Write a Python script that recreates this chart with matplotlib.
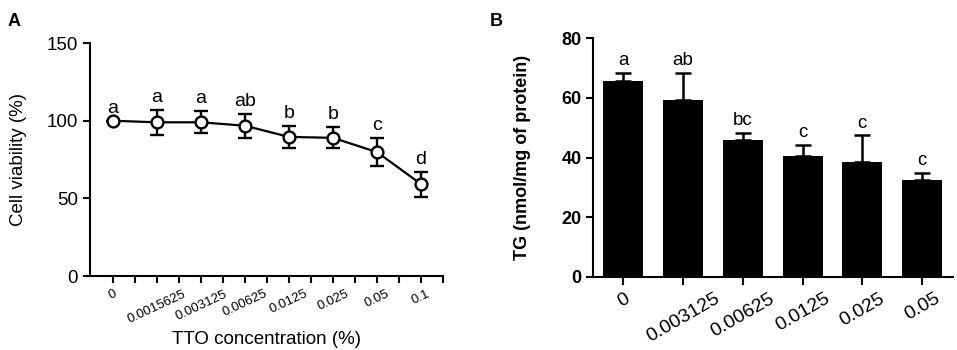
import numpy as np
import matplotlib
matplotlib.use("Agg")
import matplotlib.pyplot as plt

plt.rcParams['font.family'] = ['Liberation Sans', 'DejaVu Sans']

# Panel A: cell viability
conc_a = ['0', '0.0015625', '0.003125', '0.00625', '0.0125', '0.025', '0.05', '0.1']
viab = [100, 99, 99, 96.8, 89.6, 89, 79.8, 59.2]
viab_err = [0, 8.2, 7.2, 7.8, 7, 6.8, 9, 8]
viab_sig = ['a', 'a', 'a', 'ab', 'b', 'b', 'c', 'd']

# Panel B: TG content
conc_b = ['0', '0.003125', '0.00625', '0.0125', '0.025', '0.05']
tg = [65.6, 59.4, 45.8, 40.6, 38.5, 32.3]
tg_err = [2.8, 8.9, 2.5, 3.7, 8.9, 2.6]
tg_sig = ['a', 'ab', 'bc', 'c', 'c', 'c']

fig = plt.figure(figsize=(9.57, 3.5), dpi=100)

# ---- A ----
ax1 = fig.add_axes([0.094, 0.211, 0.369, 0.666])
xa = np.arange(len(conc_a))
ax1.errorbar(xa, viab, yerr=viab_err, color='black', lw=1.6, marker='o',
             markersize=8.5, markerfacecolor='white', markeredgewidth=1.7,
             capsize=5, capthick=1.7, elinewidth=1.7, zorder=3)
for xi, v, e, s in zip(xa, viab, viab_err, viab_sig):
    ax1.text(xi, v + e + 2.5, s, ha='center', va='bottom', fontsize=14)
ax1.set_xlim(-0.52, 7.5)
ax1.set_ylim(0, 150)
ax1.set_yticks([0, 50, 100, 150])
ax1.set_xticks(xa)
ax1.set_xticks(np.arange(0.5, 8, 1), minor=True)
ax1.set_xticklabels(conc_a, rotation=25, fontsize=9.5, ha='center')
ax1.set_ylabel('Cell viability (%)', fontsize=13.5, labelpad=14)
ax1.set_xlabel('TTO concentration (%)', fontsize=13.5, labelpad=4)
ax1.tick_params(axis='y', labelsize=13.5, width=1.5, length=5)
ax1.tick_params(axis='x', which='both', width=1.5, length=5)
for sp in ['top', 'right']:
    ax1.spines[sp].set_visible(False)
for sp in ['left', 'bottom']:
    ax1.spines[sp].set_linewidth(1.5)
fig.text(0.008, 0.925, 'A', fontsize=13, fontweight='bold')

# ---- B ----
ax2 = fig.add_axes([0.620, 0.209, 0.376, 0.682])
xb = np.arange(len(conc_b))
ax2.bar(xb, tg, width=0.67, color='black', zorder=2)
ax2.errorbar(xb, tg, yerr=[np.zeros(len(tg)), tg_err], fmt='none', ecolor='black',
             elinewidth=1.8, capsize=6, capthick=1.8, zorder=3)
for xi, v, e, s in zip(xb, tg, tg_err, tg_sig):
    ax2.text(xi, v + e + 1.2, s, ha='center', va='bottom', fontsize=13.5)
ax2.set_xlim(-0.5, 5.52)
ax2.set_ylim(0, 80)
ax2.set_yticks([0, 20, 40, 60, 80])
ax2.set_xticks(xb)
ax2.set_xticklabels(conc_b, rotation=30, fontsize=14, ha='center')
ax2.set_ylabel('TG (nmol/mg of protein)', fontsize=13, fontweight='bold', labelpad=22)
ax2.tick_params(axis='y', labelsize=13, width=1.5, length=5)
ax2.tick_params(axis='x', width=1.5, length=6)
for lbl in ax2.get_yticklabels():
    lbl.set_fontweight('bold')
for sp in ['top', 'right']:
    ax2.spines[sp].set_visible(False)
for sp in ['left', 'bottom']:
    ax2.spines[sp].set_linewidth(1.5)
fig.text(0.512, 0.925, 'B', fontsize=13, fontweight='bold')

fig.savefig('out.png', dpi=100)
